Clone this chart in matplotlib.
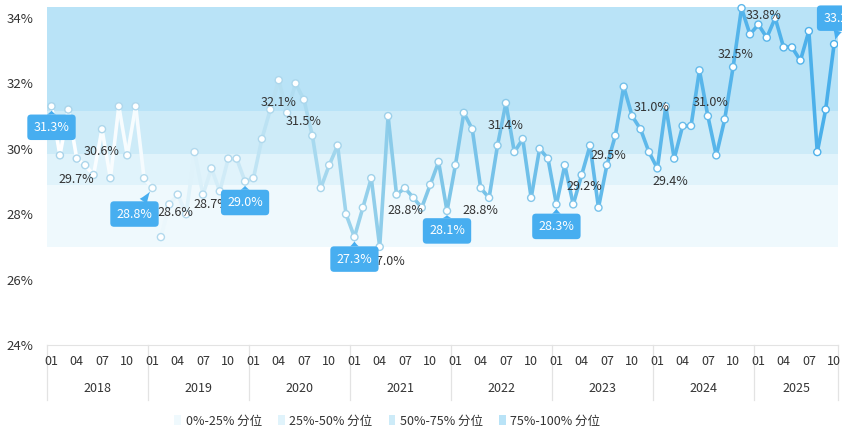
import matplotlib
matplotlib.use("Agg")
import matplotlib.pyplot as plt
import numpy as np
from matplotlib.collections import LineCollection
from matplotlib.patches import Patch
from matplotlib.colors import to_rgb
import matplotlib.transforms as mtransforms

plt.rcParams['font.family'] = ['Noto Sans CJK SC', 'DejaVu Sans']

# monthly values 2018-01 .. 2025-10
years = [2018, 2019, 2020, 2021, 2022, 2023, 2024, 2025]
values = [
    31.3, 29.8, 31.2, 29.7, 29.5, 29.2, 30.6, 29.1, 31.3, 29.8, 31.3, 29.1,   # 2018
    28.8, 27.3, 28.3, 28.6, 28.0, 29.9, 28.6, 29.4, 28.7, 29.7, 29.7, 29.0,   # 2019
    29.1, 30.3, 31.2, 32.1, 31.1, 32.0, 31.5, 30.4, 28.8, 29.5, 30.1, 28.0,   # 2020
    27.3, 28.2, 29.1, 27.0, 31.0, 28.6, 28.8, 28.5, 28.2, 28.9, 29.6, 28.1,   # 2021
    29.5, 31.1, 30.6, 28.8, 28.5, 30.1, 31.4, 29.9, 30.3, 28.5, 30.0, 29.7,   # 2022
    28.3, 29.5, 28.3, 29.2, 30.1, 28.2, 29.5, 30.4, 31.9, 31.0, 30.6, 29.9,   # 2023
    29.4, 31.3, 29.7, 30.7, 30.7, 32.4, 31.0, 29.8, 30.9, 32.5, 34.3, 33.5,   # 2024
    33.8, 33.4, 34.0, 33.1, 33.1, 32.7, 33.6, 29.9, 31.2, 33.2,               # 2025
]
# quartile bands (lower, upper)
band_edges = [27.0, 28.9, 29.85, 31.15, 34.35]
band_names = ['0%-25% 分位', '25%-50% 分位', '50%-75% 分位', '75%-100% 分位']
band_colors = ['#eff9fd', '#e0f3fb', '#cdebf8', '#b9e3f7']

# highlighted points (blue bubbles) and plain labels: index -> offset in px
bubble_pts = {0: (0, -21), 12: (-18, -26), 23: (0, -21), 36: (0, -22),
              47: (0, -20), 60: (0, -22), 93: (7, 26)}
label_pts = {3: (0, -21), 6: (0, -22), 15: (-2, -18), 20: (-8, -13),
             27: (0, -22), 30: (0, -22), 39: (8, -15), 42: (0, -22),
             51: (0, -22), 54: (0, -22), 63: (3, -12), 66: (1, 10),
             69: (19, 9), 72: (13, -13), 78: (3, 14), 81: (2, 13), 84: (5, 9)}

n = len(values)
x = np.arange(n)
y = np.array(values)

W, H = 842, 432
fig = plt.figure(figsize=(W / 100, H / 100), dpi=100)
ax_left, ax_right = 47.3, 838.3
ax_bot, ax_top = 345, 1.65
ax = fig.add_axes([ax_left / W, (H - ax_bot) / H, (ax_right - ax_left) / W, (ax_bot - ax_top) / H])
ax.set_xlim(-0.5, n - 0.5)
ax.set_ylim(24, 34.5)

for i in range(4):
    ax.axhspan(band_edges[i], band_edges[i + 1], color=band_colors[i], lw=0, zorder=0)

# gradient line: white on the left, blue on the right
stops = [(0.0, '#ffffff'), (0.12, '#f4fbfe'), (0.3, '#b3def1'), (0.45, '#86c9e8'),
         (0.7, '#62baea'), (1.0, '#4aafea')]
def grad(t):
    for (t0, c0), (t1, c1) in zip(stops[:-1], stops[1:]):
        if t <= t1:
            f = (t - t0) / (t1 - t0)
            a, b = np.array(to_rgb(c0)), np.array(to_rgb(c1))
            return tuple(a + (b - a) * f)
    return to_rgb(stops[-1][1])

segs = [[(x[i], y[i]), (x[i + 1], y[i + 1])] for i in range(n - 1)]
seg_cols = [grad((i + 0.5) / (n - 1)) for i in range(n - 1)]
lc = LineCollection(segs, colors=seg_cols, linewidths=2.6, capstyle='round', joinstyle='round', zorder=2)
ax.add_collection(lc)

edge_base = np.array(to_rgb('#a9d4ea'))
edge_cols = []
for i in range(n):
    c = np.array(grad(i / (n - 1)))
    t = i / (n - 1)
    edge_cols.append(tuple(edge_base * (1 - t) + c * t))
ax.scatter(x, y, s=26, facecolor='white', edgecolors=edge_cols, linewidths=1.0, zorder=3)

for i, (dx, dy) in label_pts.items():
    ax.annotate(f'{values[i]:.1f}%', xy=(x[i], y[i]), xytext=(dx * 0.72, dy * 0.72),
                textcoords='offset points', ha='center', va='center',
                fontsize=9, color='#333333', zorder=4)

for i, (dx, dy) in bubble_pts.items():
    ax.annotate(f'{values[i]:.1f}%', xy=(x[i], y[i]), xytext=(dx * 0.72, dy * 0.72),
                textcoords='offset points', ha='center', va='center',
                fontsize=9, color='white', zorder=5, annotation_clip=False,
                bbox=dict(boxstyle='round,pad=0.5,rounding_size=0.3', fc='#47aef0', ec='none'),
                arrowprops=dict(arrowstyle='wedge,tail_width=0.7,shrink_factor=0.4',
                                fc='#47aef0', ec='none', shrinkA=0, shrinkB=3))

# axes styling
for s in ['top', 'right', 'left']:
    ax.spines[s].set_visible(False)
ax.spines['bottom'].set_color('#e3e3e3')
ax.set_yticks([24, 26, 28, 30, 32, 34])
ax.set_yticklabels([f'{v}%' for v in [24, 26, 28, 30, 32, 34]], fontsize=9.5, color='#333333')
ax.tick_params(axis='y', length=0, pad=10)

months = [(yr, m) for yr in years for m in range(1, 13)][:n]
tick_idx = [i for i, (yr, m) in enumerate(months) if m in (1, 4, 7, 10)]
ax.set_xticks(tick_idx)
ax.set_xticklabels([f'{months[i][1]:02d}' for i in tick_idx], fontsize=9, color='#333333')
ax.tick_params(axis='x', length=0, pad=7)

trans = mtransforms.blended_transform_factory(ax.transData, ax.transAxes)
axh = ax_bot - ax_top
sep_bottom = -(400 - ax_bot) / axh
year_starts = [i for i, (yr, m) in enumerate(months) if m == 1] + [n]
for s in year_starts:
    ax.plot([s - 0.5, s - 0.5], [0, sep_bottom], transform=trans, color='#e3e3e3',
            lw=0.9, clip_on=False, zorder=1)
for k, yr in enumerate(years):
    a, b = year_starts[k], year_starts[k + 1] - 1
    ax.text((a + b) / 2, -(388 - ax_bot) / axh, str(yr), transform=trans,
            ha='center', va='center', fontsize=9, color='#333333')

handles = [Patch(facecolor=c, edgecolor='none') for c in band_colors]
fig.legend(handles, band_names, loc='center', bbox_to_anchor=(0.46, 11 / H), ncol=4,
           frameon=False, fontsize=9, handlelength=0.55, handleheight=0.9,
           handletextpad=0.35, columnspacing=1.3, labelcolor='#333333')

fig.savefig('out.png', dpi=100)
